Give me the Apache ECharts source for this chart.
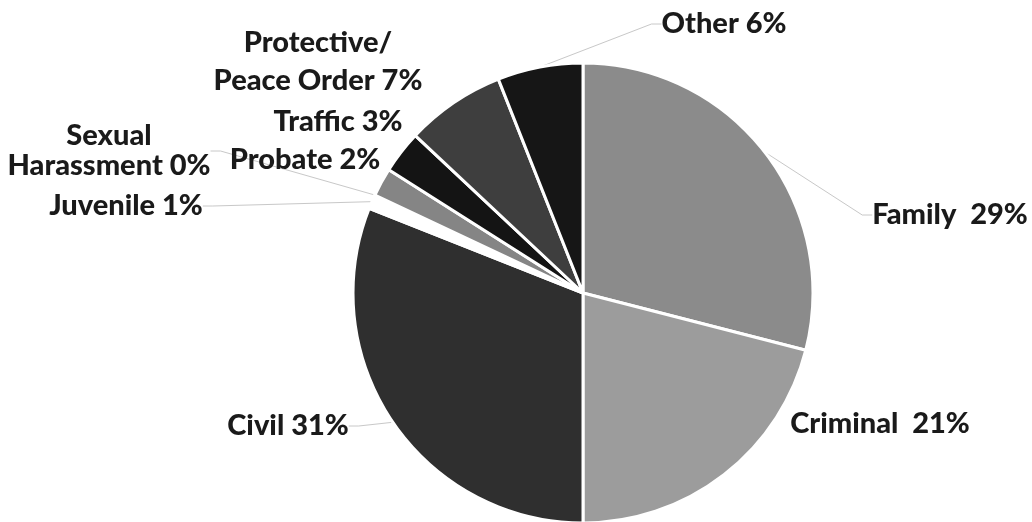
<!DOCTYPE html>
<html>
<head>
<meta charset="utf-8">
<script src="https://cdn.jsdelivr.net/npm/echarts@6/dist/echarts.min.js"></script>
<style>
  html, body { margin: 0; padding: 0; background: #fff; }
  #chart { width: 1032px; height: 522px; }
</style>
</head>
<body>
<div id="chart"></div>
<script>
// Case types, clockwise from 12 o'clock
const categories = ['Family', 'Criminal', 'Civil', 'Juvenile', 'Sexual Harassment', 'Probate', 'Traffic', 'Protective/Peace Order', 'Other'];
// Share of cases, percent
const shares = [29, 21, 31, 1, 0, 2, 3, 7, 6];
// Text shown before each percentage
const labelNames = ['Family  ', 'Criminal  ', 'Civil ', 'Juvenile ', 'Sexual\nHarassment ', 'Probate ', 'Traffic ', 'Protective/\nPeace Order ', 'Other '];
// Slice fills (grayscale)
const sliceColors = ['#8b8b8b', '#9c9c9c', '#2f2f2f', '#ffffff', '#d0d0d0', '#858585', '#141414', '#3e3e3e', '#161616'];

// Label centres in pixels, line spacing and whether a leader line is drawn
const labelAnchors = [
  [950, 215], [880, 424], [288, 426], [126, 206], [109, 151],
  [305, 160], [338, 122], [318, 62], [724, 24]
];
const labelLineHeights = [30, 30, 30, 30, 30, 30, 30, 38, 30];
const leaderShown = [true, false, true, true, true, false, false, false, true];

const chart = echarts.init(document.getElementById('chart'), null, { renderer: 'canvas' });

chart.setOption({
  backgroundColor: '#ffffff',
  animation: false,
  series: [{
    type: 'pie',
    center: [583, 293],
    radius: 230,
    startAngle: 90,
    clockwise: true,
    avoidLabelOverlap: false,
    data: categories.map((name, i) => ({
      name: name,
      value: shares[i],
      itemStyle: { color: sliceColors[i] },
      label: { lineHeight: labelLineHeights[i] },
      labelLine: { show: leaderShown[i] }
    })),
    itemStyle: { borderColor: '#ffffff', borderWidth: 3 },
    label: {
      show: true,
      formatter: p => labelNames[p.dataIndex] + p.value + '%',
      fontFamily: 'Lato',
      fontWeight: 900,
      fontSize: 29,
      color: '#1a1a1a',
      align: 'center'
    },
    labelLine: {
      show: true,
      lineStyle: { color: '#c8c8c8', width: 1 },
      length: 10,
      length2: 10
    },
    labelLayout: function (params) {
      const a = labelAnchors[params.dataIndex];
      return { x: a[0], y: a[1], align: 'center', verticalAlign: 'middle' };
    },
    emphasis: { disabled: true }
  }]
});
</script>
</body>
</html>
